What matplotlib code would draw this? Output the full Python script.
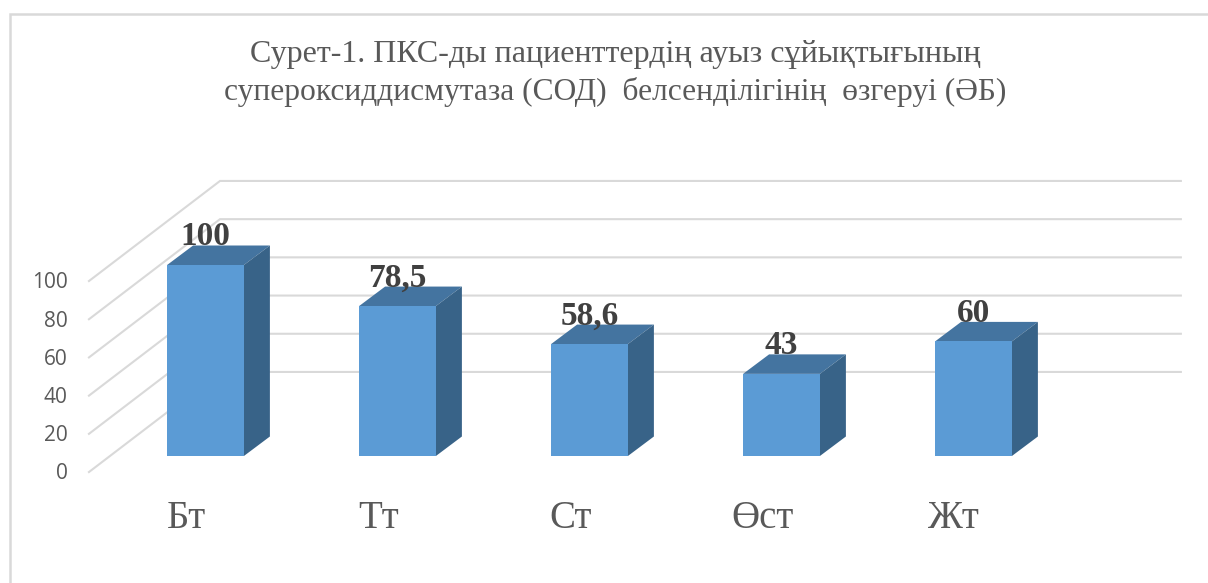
import matplotlib
matplotlib.use('Agg')
import matplotlib.pyplot as plt

# data
categories = ['Бт', 'Тт', 'Ст', 'Өст', 'Жт']
values = [100, 78.5, 58.6, 43, 60]
value_labels = ['100', '78,5', '58,6', '43', '60']
y_ticks = [0, 20, 40, 60, 80, 100]
title_lines = ['Сурет-1. ПКС-ды пациенттердің ауыз сұйықтығының',
               'супероксиддисмутаза (СОД)  белсенділігінің  өзгеруі (ӘБ)']

SERIF = 'Liberation Serif'
FRONT = '#5B9BD5'
TOP = '#4474A0'
SIDE = '#386388'
GRID = '#D9D9D9'
TEXT = '#595959'

W, H = 1208, 583
# pixels per category and per value unit on the plane of the bar fronts
PX_CAT, PX_VAL = 192., 1.91
X0, Y0 = 205.5, 456.

BAR_W = 0.4
DEPTH_X, DEPTH_Y = 26. / PX_CAT, 19.5 / PX_VAL
# floor offsets of the side wall, front edge and back edge
WALL_FRONT = (-0.607, -8.4)
WALL_BACK = (0.0755, 44.)
GRID_RIGHT = 5.08

fig = plt.figure(figsize=(W / 100, H / 100), dpi=100)
ax = fig.add_axes([0, 0, 1, 1])
ax.set_xlim(-X0 / PX_CAT, (W - X0) / PX_CAT)
ax.set_ylim((Y0 - H) / PX_VAL, Y0 / PX_VAL)
ax.axis('off')

# chart frame, open on the right and at the bottom
fig.add_artist(plt.Line2D([9.5 / W, 9.5 / W, 1], [0, 1 - 13.5 / H, 1 - 13.5 / H], color=GRID, linewidth=1.8,
                          solid_joinstyle='miter'))

# gridlines on the back and side walls
for t in y_ticks:
    ax.plot([WALL_FRONT[0], WALL_BACK[0], GRID_RIGHT],
            [t + WALL_FRONT[1], t + WALL_BACK[1], t + WALL_BACK[1]],
            color=GRID, linewidth=1.5, zorder=1, solid_joinstyle='miter')
    ax.text(WALL_FRONT[0] - 0.11, t + WALL_FRONT[1] - 1, str(t), ha='right', va='center',
            family='Open Sans', fontsize=15, color=TEXT)

# 3d bars
for i, v in enumerate(values):
    x1, x2 = i - BAR_W / 2, i + BAR_W / 2
    ax.fill([x1, x2, x2 + DEPTH_X, x1 + DEPTH_X], [v, v, v + DEPTH_Y, v + DEPTH_Y],
            color=TOP, linewidth=0, zorder=2)
    ax.fill([x2, x2 + DEPTH_X, x2 + DEPTH_X, x2], [0, DEPTH_Y, v + DEPTH_Y, v],
            color=SIDE, linewidth=0, zorder=2)
ax.bar(range(len(values)), values, width=BAR_W, color=FRONT, zorder=3)

for i, v in enumerate(values):
    ax.text(i, v + 10.3, value_labels[i], ha='center', va='baseline', family=SERIF,
            fontweight='bold', fontsize=24, color='#404040', zorder=4)
    ax.text(i - 0.1, -37.5, categories[i], ha='center', va='baseline', family=SERIF,
            fontsize=28, color=TEXT, zorder=4)

fig.text(615 / W, 1 - 62 / H, title_lines[0], ha='center', va='baseline', family=SERIF,
         fontsize=23, color=TEXT)
fig.text(615 / W, 1 - 100 / H, title_lines[1], ha='center', va='baseline', family=SERIF,
         fontsize=22.7, color=TEXT)

plt.savefig('out.png', dpi=100)
